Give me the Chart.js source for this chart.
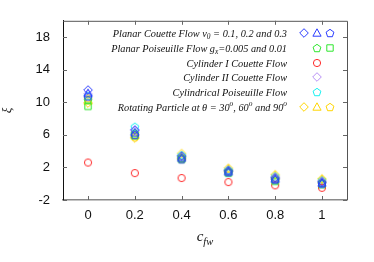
<!DOCTYPE html>
<html>
<head>
<meta charset="utf-8">
<script src="https://cdn.jsdelivr.net/npm/chart.js@4.4.1/dist/chart.umd.min.js"></script>
<style>
    html, body { margin: 0; padding: 0; background: #fff; }
    #wrap { width: 374px; height: 262px; }
</style>
</head>
<body>
<div id="wrap"><canvas id="chart" width="374" height="262"></canvas></div>
<script>
const xValues = [0, 0.2, 0.4, 0.6, 0.8, 1];
const xTicks = [0, 0.2, 0.4, 0.6, 0.8, 1];
const yTicks = [-2, 2, 6, 10, 14, 18];

// Planar Couette v0 = 0.1, 0.2, 0.3
const couetteV01 = [11.5, 6.6, 3.4, 1.6, 0.7, 0.2];
const couetteV02 = [11.1, 6.3, 3.2, 1.5, 0.6, 0.1];
const couetteV03 = [10.7, 6.0, 3.0, 1.4, 0.5, 0.0];
// Planar Poiseuille gx = 0.005, 0.01
const poiseuille005 = [10.3, 6.2, 3.2, 1.5, 0.5, 0.1];
const poiseuille01 = [9.5, 5.9, 3.0, 1.3, 0.3, -0.1];
const cylinderI = [2.6, 1.3, 0.7, 0.2, -0.2, -0.5];
const cylinderII = [11.0, 6.5, 3.3, 1.6, 0.8, 0.3];
const cylPoiseuille = [10.8, 7.0, 3.5, 1.7, 0.9, 0.4];
// Rotating particle at 30, 60, 90 deg
const rotating30 = [9.9, 5.6, 3.7, 1.9, 1.1, 0.6];
const rotating60 = [10.2, 6.0, 3.4, 1.8, 1.0, 0.5];
const rotating90 = [10.5, 5.8, 3.1, 1.6, 0.8, 0.4];

const BLUE = "#2a3cff";
const GREEN = "#2ee62e";
const RED = "#ff2a2a";
const PURPLE = "#b890f5";
const CYAN = "#18f0f0";
const YELLOW = "#ffd500";

const SERIF = "'Liberation Serif', 'DejaVu Serif', serif";
const SANS = "'Liberation Sans', Arial, sans-serif";

// marker images
const makeMarker = (shape, color) => {
    const size = 12;
    const c = document.createElement("canvas");
    c.width = size;
    c.height = size;
    const ctx = c.getContext("2d");
    const m = size / 2;
    ctx.strokeStyle = color;
    ctx.lineWidth = 1;
    ctx.beginPath();
    if (shape === "circle") {
        ctx.arc(m, m, 3.6, 0, Math.PI * 2);
    } else if (shape === "rect") {
        ctx.rect(m - 3.2, m - 3.2, 6.4, 6.4);
    } else if (shape === "diamond") {
        ctx.moveTo(m, m - 4.3);
        ctx.lineTo(m + 4.3, m);
        ctx.lineTo(m, m + 4.3);
        ctx.lineTo(m - 4.3, m);
        ctx.closePath();
    } else if (shape === "triangle") {
        ctx.moveTo(m, m - 4.2);
        ctx.lineTo(m + 4.1, m + 3.2);
        ctx.lineTo(m - 4.1, m + 3.2);
        ctx.closePath();
    } else if (shape === "pentagon") {
        for (let i = 0; i < 5; i++) {
            const a = -Math.PI / 2 + i * 2 * Math.PI / 5;
            const px = m + 4.1 * Math.cos(a);
            const py = m + 0.4 + 4.1 * Math.sin(a);
            if (i === 0) ctx.moveTo(px, py); else ctx.lineTo(px, py);
        }
        ctx.closePath();
    }
    ctx.stroke();
    return c;
};

const series = [
    { values: couetteV01, marker: makeMarker("diamond", BLUE) },
    { values: couetteV02, marker: makeMarker("triangle", BLUE) },
    { values: couetteV03, marker: makeMarker("pentagon", BLUE) },
    { values: poiseuille005, marker: makeMarker("pentagon", GREEN) },
    { values: poiseuille01, marker: makeMarker("rect", GREEN) },
    { values: cylinderI, marker: makeMarker("circle", RED) },
    { values: cylinderII, marker: makeMarker("diamond", PURPLE) },
    { values: cylPoiseuille, marker: makeMarker("pentagon", CYAN) },
    { values: rotating30, marker: makeMarker("diamond", YELLOW) },
    { values: rotating60, marker: makeMarker("triangle", YELLOW) },
    { values: rotating90, marker: makeMarker("pentagon", YELLOW) }
];

// legend rows: text pieces (sub / sup) and which series markers to show
const legendRows = [
    { text: [["Planar Couette Flow v"], ["0", "sub"], [" = 0.1, 0.2 and 0.3"]], markers: [0, 1, 2], startCol: 0 },
    { text: [["Planar Poiseuille Flow g"], ["x", "sub"], ["=0.005 and 0.01"]], markers: [3, 4], startCol: 1 },
    { text: [["Cylinder I Couette Flow"]], markers: [5], startCol: 1 },
    { text: [["Cylinder II Couette Flow"]], markers: [6], startCol: 1 },
    { text: [["Cylindrical Poiseuille Flow"]], markers: [7], startCol: 1 },
    { text: [["Rotating Particle at \u03b8 = 30"], ["o", "sup"], [", 60"], ["o", "sup"], [" and 90"], ["o", "sup"]], markers: [8, 9, 10], startCol: 0 }
];

const drawRich = (ctx, pieces, xRight, y, size) => {
    const fontFor = (kind) => "italic " + (kind ? size * 0.72 : size) + "px " + SERIF;
    let total = 0;
    pieces.forEach(([t, kind]) => {
        ctx.font = fontFor(kind);
        total += ctx.measureText(t).width;
    });
    let x = xRight - total;
    ctx.textAlign = "left";
    ctx.textBaseline = "alphabetic";
    pieces.forEach(([t, kind]) => {
        ctx.font = fontFor(kind);
        let dy = 0;
        if (kind === "sub") dy = size * 0.28;
        if (kind === "sup") dy = -size * 0.42;
        ctx.fillText(t, x, y + dy);
        x += ctx.measureText(t).width;
    });
};

const decorPlugin = {
    id: "decor",
    afterDraw(chart) {
        const { ctx, chartArea, scales } = chart;
        const { left, right, top, bottom } = chartArea;
        ctx.save();
        // top and right frame
        ctx.strokeStyle = "#555";
        ctx.lineWidth = 1;
        ctx.beginPath();
        ctx.moveTo(left, top + 0.5);
        ctx.lineTo(right + 0.5, top + 0.5);
        ctx.lineTo(right + 0.5, bottom);
        ctx.stroke();
        // inward ticks
        ctx.strokeStyle = "#666";
        ctx.beginPath();
        yTicks.forEach((v) => {
            const py = Math.round(scales.y.getPixelForValue(v)) + 0.5;
            ctx.moveTo(left, py);
            ctx.lineTo(left + 4, py);
            ctx.moveTo(right, py);
            ctx.lineTo(right - 4, py);
        });
        xTicks.forEach((v) => {
            const px = Math.round(scales.x.getPixelForValue(v)) + 0.5;
            ctx.moveTo(px, bottom);
            ctx.lineTo(px, bottom - 4);
            ctx.moveTo(px, top);
            ctx.lineTo(px, top + 4);
        });
        ctx.stroke();

        // legend
        ctx.fillStyle = "#111";
        const rowY = [33, 48, 63, 77, 92, 107];
        const colX = [304, 317, 330];
        legendRows.forEach((row, i) => {
            drawRich(ctx, row.text, 287, rowY[i] + 3.5, 10.3);
            row.markers.forEach((s, j) => {
                const img = series[s].marker;
                const cx = colX[row.startCol + j];
                ctx.drawImage(img, cx - img.width / 2, rowY[i] - img.height / 2);
            });
        });

        // x-axis title c_fw
        ctx.fillStyle = "#111";
        ctx.font = "italic 15px " + SERIF;
        ctx.textAlign = "left";
        const cw = ctx.measureText("c").width;
        ctx.font = "italic 10.5px " + SERIF;
        const sw = ctx.measureText("fw").width;
        const startX = (left + right) / 2 - (cw + sw) / 2;
        ctx.font = "italic 15px " + SERIF;
        ctx.fillText("c", startX, 241);
        ctx.font = "italic 10.5px " + SERIF;
        ctx.fillText("fw", startX + cw, 245);
        ctx.restore();
    }
};

new Chart(document.getElementById("chart"), {
    type: "scatter",
    data: {
        datasets: series.map((s) => ({
            data: xValues.map((x, i) => ({ x, y: s.values[i] })),
            pointStyle: s.marker,
            pointRadius: 4,
            showLine: false
        }))
    },
    options: {
        responsive: false,
        animation: false,
        layout: { padding: { top: 18, right: 27, left: 0, bottom: 0 } },
        plugins: { legend: { display: false }, tooltip: { enabled: false } },
        scales: {
            x: {
                type: "linear",
                min: -0.107,
                max: 1.107,
                afterBuildTicks: (scale) => { scale.ticks = xTicks.map((v) => ({ value: v })); },
                afterFit: (scale) => { scale.height = 62; },
                grid: { display: false, drawTicks: false },
                border: { display: true, color: "#8a8a8a", width: 1.5 },
                ticks: {
                    padding: 8,
                    color: "#111",
                    font: { family: SANS, size: 13 },
                    callback: (v) => String(Math.round(v * 10) / 10)
                }
            },
            y: {
                min: -2,
                max: 20,
                afterBuildTicks: (scale) => { scale.ticks = yTicks.map((v) => ({ value: v })); },
                afterFit: (scale) => { scale.width = 63; },
                grid: { display: false, drawTicks: false },
                border: { display: true, color: "#111", width: 1 },
                ticks: {
                    padding: 13,
                    color: "#111",
                    font: { family: SANS, size: 13 }
                },
                title: {
                    display: true,
                    text: "\u03be",
                    color: "#111",
                    padding: 0,
                    font: { family: SERIF, size: 13, style: "italic", lineHeight: 1.2 }
                }
            }
        }
    },
    plugins: [decorPlugin]
});
</script>
</body>
</html>
